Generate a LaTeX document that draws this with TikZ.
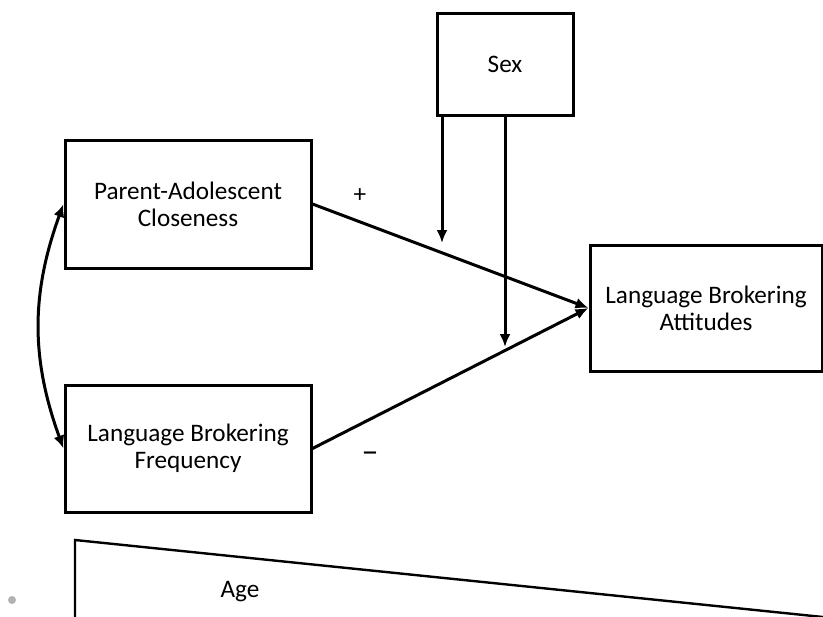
\documentclass[tikz,border=0pt]{standalone}
\usepackage{fontspec}
\setmainfont{Carlito}
\usetikzlibrary{arrows.meta}
\begin{document}
\begin{tikzpicture}[x=0.5pt,y=-0.5pt,
  font=\fontsize{12.6}{13.5}\selectfont,
  box/.style={draw,line width=1.5pt,align=center,inner sep=0pt},
  link/.style={line width=1.5pt,-{Latex[length=6.5pt,width=5.5pt]}},
  both/.style={line width=1.5pt,{Latex[length=6.5pt,width=5.5pt]}-{Latex[length=6.5pt,width=5.5pt]}}]
\useasboundingbox (0,0) rectangle (823,616);
% variables
\node[box,minimum width=123pt,minimum height=64pt] (pac) at (188,204) {Parent-Adolescent\\Closeness};
\node[box,minimum width=123pt,minimum height=63.5pt] (lbf) at (188,448.5) {Language Brokering\\Frequency};
\node[box,minimum width=68pt,minimum height=51pt] (sex) at (505,64) {Sex};
\node[box,minimum width=116pt,minimum height=63pt] (lba) at (706,308) {Language Brokering\\Attitudes};
% moderation targets
\coordinate (m1) at (442,243);
\coordinate (m2) at (505,347);
% paths
\draw[both] (pac.west) to[bend right=20] (lbf.west);
\draw[link] (pac.east) -- (lba.west);
\draw[link] (lbf.east) -- (lba.west);
\draw[link] (m1 |- sex.south) -- (m1);
\draw[link] (sex.south) -- (m2);
\node (plus) at (360,196) {+};
\node[font=\fontsize{17}{17}\selectfont] (minus) at (370,457) {–};
% age wedge
\draw[line width=1.2pt] (75,620) -- (75,540) -- (823,617);
\node (age) at (240,592) {Age};
\fill[gray!60] (12,600) circle (2pt);
\end{tikzpicture}
\end{document}
